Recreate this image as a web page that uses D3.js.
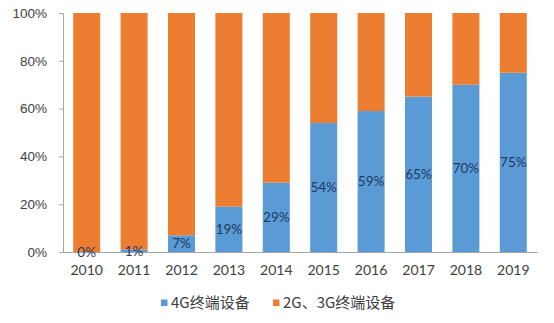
<!DOCTYPE html>
<html><head><meta charset="utf-8">
<script src="https://cdn.jsdelivr.net/npm/d3@7"></script>
<style>body{margin:0;background:#fff}svg{display:block}</style>
</head><body>
<script>
const years = ["2010","2011","2012","2013","2014","2015","2016","2017","2018","2019"];
const share4G = [0,1,7,19,29,54,59,65,70,75];
const share23G = [100,99,93,81,71,46,41,35,30,25];
const yTicks = [0,20,40,60,80,100];
const seriesNames = ["4G终端设备","2G、3G终端设备"];
const colors = ["#5b9bd5","#ed7d31"];

const W=554,H=323;
const svg=d3.select("body").append("svg").attr("width",W).attr("height",H);
const x=d3.scaleBand().domain(years).range([63,537]).paddingInner(0.43).paddingOuter(0.215);
const y=d3.scaleLinear().domain([0,100]).range([252,13]);

const rows=years.map((yr,i)=>({year:yr,a:share4G[i],b:share23G[i]}));
const stack=d3.stack().keys(["a","b"])(rows);

svg.append("g").selectAll("g").data(stack).join("g").attr("fill",(d,i)=>colors[i])
 .selectAll("rect").data(d=>d).join("rect")
 .attr("x",d=>x(d.data.year)).attr("width",x.bandwidth())
 .attr("y",d=>y(d[1])).attr("height",d=>y(d[0])-y(d[1]));

// y axis
const ya=svg.append("g").attr("transform","translate(63,0)")
 .call(d3.axisLeft(y).tickValues(yTicks).tickSize(4).tickPadding(12).tickFormat(d=>d+"%"));
ya.select(".domain").attr("stroke","#a6a6a6");
ya.selectAll(".tick line").attr("stroke","#a6a6a6");
ya.selectAll("text").attr("font-family","Liberation Sans, Arial, sans-serif").attr("font-size",13.5).attr("fill","#404040");

// x axis
const xa=svg.append("g").attr("transform","translate(0,252)")
 .call(d3.axisBottom(x).tickSize(0).tickPadding(13));
xa.select(".domain").attr("stroke","#a6a6a6");
xa.selectAll("text").attr("font-family","Lato, Carlito, sans-serif").attr("font-size",14).attr("fill","#404040");

// data labels
svg.append("g").selectAll("text").data(rows).join("text")
 .attr("x",d=>x(d.year)+x.bandwidth()/2)
 .attr("y",d=>y(d.a/2))
 .attr("dy","0.35em").attr("text-anchor","middle")
 .attr("font-family","Lato, Carlito, sans-serif").attr("font-size",13.5)
 .attr("fill","#1f3864").text(d=>d.a+"%");

// legend
const legendX=[161,273];
const lg=svg.append("g");
seriesNames.forEach((n,i)=>{
  lg.append("rect").attr("x",legendX[i]).attr("y",299.5).attr("width",6.5).attr("height",6.5).attr("fill",colors[i]);
  lg.append("text").attr("x",legendX[i]+10).attr("y",302.5).attr("dy","0.35em")
   .attr("font-family","Noto Sans CJK SC, sans-serif").attr("font-size",15).attr("fill","#404040").text(n);
});
</script>
</body></html>
